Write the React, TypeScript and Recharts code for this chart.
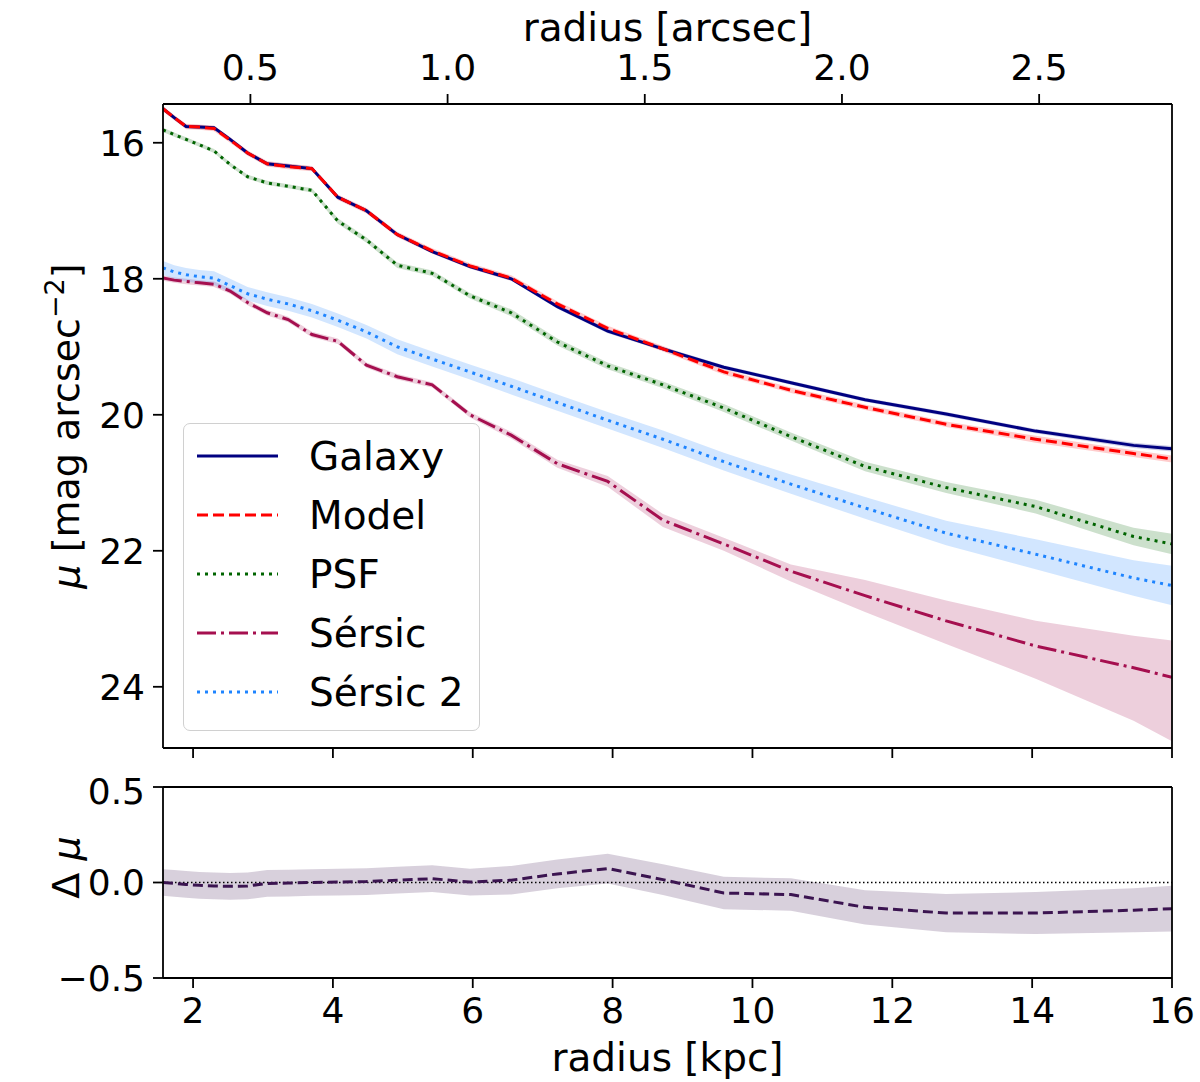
import React from "react";
import { ComposedChart, Line, Area, XAxis, YAxis, ReferenceLine, Legend } from "recharts";

// sample radii (kpc) shared by all profiles
const radiusKpc = [1.57, 1.73, 1.9, 2.09, 2.3, 2.53, 2.78, 3.06, 3.36, 3.7, 4.07, 4.48, 4.92, 5.42, 5.96, 6.55, 7.21, 7.93, 8.72, 9.59, 10.55, 11.61, 12.77, 14.05, 15.45, 16.0];

const galaxyMu = [15.5, 15.63, 15.76, 15.77, 15.78, 15.95, 16.15, 16.31, 16.34, 16.38, 16.8, 17.0, 17.35, 17.6, 17.82, 18.0, 18.41, 18.77, 19.03, 19.3, 19.53, 19.78, 19.99, 20.24, 20.45, 20.5];
const galaxyErr = [0.03, 0.03, 0.03, 0.03, 0.03, 0.03, 0.03, 0.03, 0.03, 0.03, 0.03, 0.03, 0.03, 0.03, 0.03, 0.03, 0.03, 0.03, 0.03, 0.03, 0.03, 0.03, 0.03, 0.03, 0.04, 0.04];

const modelMu = [15.5, 15.63, 15.76, 15.77, 15.79, 15.96, 16.15, 16.31, 16.35, 16.38, 16.8, 17.0, 17.35, 17.59, 17.81, 17.99, 18.37, 18.73, 19.03, 19.37, 19.64, 19.89, 20.14, 20.36, 20.57, 20.65];
const modelErr = [0.04, 0.04, 0.04, 0.04, 0.04, 0.04, 0.04, 0.04, 0.04, 0.04, 0.04, 0.04, 0.04, 0.04, 0.04, 0.04, 0.04, 0.04, 0.04, 0.04, 0.04, 0.04, 0.04, 0.05, 0.05, 0.05];

const psfMu = [15.81, 15.88, 15.95, 16.03, 16.12, 16.32, 16.5, 16.59, 16.64, 16.7, 17.15, 17.43, 17.8, 17.92, 18.25, 18.5, 18.93, 19.28, 19.56, 19.9, 20.32, 20.76, 21.07, 21.35, 21.79, 21.9];
const psfErr = [0.03, 0.03, 0.03, 0.03, 0.03, 0.03, 0.03, 0.03, 0.03, 0.03, 0.04, 0.04, 0.04, 0.04, 0.04, 0.05, 0.05, 0.05, 0.05, 0.06, 0.06, 0.07, 0.08, 0.1, 0.13, 0.15];

const sersicMu = [17.99, 18.02, 18.04, 18.06, 18.08, 18.18, 18.35, 18.5, 18.6, 18.82, 18.92, 19.27, 19.44, 19.56, 20.0, 20.3, 20.72, 20.98, 21.55, 21.9, 22.3, 22.66, 23.03, 23.4, 23.72, 23.86];
const sersicErrUp = [0.04, 0.04, 0.04, 0.04, 0.04, 0.04, 0.04, 0.04, 0.04, 0.04, 0.04, 0.04, 0.04, 0.04, 0.04, 0.05, 0.06, 0.08, 0.09, 0.09, 0.1, 0.23, 0.3, 0.37, 0.47, 0.54];
const sersicErrDown = [0.04, 0.04, 0.04, 0.04, 0.04, 0.04, 0.04, 0.04, 0.04, 0.04, 0.04, 0.04, 0.04, 0.04, 0.04, 0.05, 0.06, 0.08, 0.1, 0.1, 0.15, 0.24, 0.34, 0.48, 0.78, 0.94];

const sersic2Mu = [17.84, 17.9, 17.94, 17.97, 17.99, 18.1, 18.22, 18.3, 18.37, 18.47, 18.61, 18.78, 19.0, 19.18, 19.37, 19.58, 19.82, 20.08, 20.36, 20.69, 21.02, 21.37, 21.74, 22.05, 22.4, 22.51];
const sersic2Err = [0.1, 0.1, 0.1, 0.1, 0.1, 0.1, 0.1, 0.1, 0.1, 0.1, 0.1, 0.1, 0.11, 0.11, 0.11, 0.12, 0.12, 0.12, 0.13, 0.13, 0.14, 0.16, 0.18, 0.22, 0.26, 0.29];

// residual galaxy - model
const deltaMu = [0.0, -0.005, -0.01, -0.015, -0.018, -0.02, -0.018, -0.005, -0.003, 0.0, 0.002, 0.005, 0.012, 0.02, 0.002, 0.012, 0.045, 0.073, 0.015, -0.055, -0.063, -0.13, -0.16, -0.16, -0.145, -0.137];
const deltaErr = [0.07, 0.07, 0.07, 0.07, 0.07, 0.07, 0.07, 0.07, 0.07, 0.07, 0.07, 0.07, 0.07, 0.07, 0.07, 0.075, 0.075, 0.078, 0.08, 0.085, 0.085, 0.09, 0.1, 0.11, 0.115, 0.12];

const kpcTicks = [2, 4, 6, 8, 10, 12, 14, 16];
const arcsecTicks = [0.5, 1.0, 1.5, 2.0, 2.5];
const muTicks = [16, 18, 20, 22, 24];
const deltaTicks = [-0.5, 0, 0.5];
const KPC_PER_ARCSEC = 5.64;

const FONT = "DejaVu Sans";
const TITLE_SIZE = 39;
const tickStyle = { fontSize: 36, fill: "#000", fontFamily: FONT };
const frame = { stroke: "#000", strokeWidth: 1.8 };

const series = [
  { key: "galaxy", name: "Galaxy", color: "#000080", dash: undefined as string | undefined },
  { key: "model", name: "Model", color: "#ff0000", dash: "11 5" },
  { key: "psf", name: "PSF", color: "#006400", dash: "3 5" },
  { key: "sersic", name: "Sérsic", color: "#a50f4f", dash: "19 5 3 5" },
  { key: "sersic2", name: "Sérsic 2", color: "#1e84ff", dash: "3 5" },
];

const rows = radiusKpc.map((r, i) => ({
  r,
  galaxy: galaxyMu[i],
  galaxyBand: [galaxyMu[i] - galaxyErr[i], galaxyMu[i] + galaxyErr[i]],
  model: modelMu[i],
  modelBand: [modelMu[i] - modelErr[i], modelMu[i] + modelErr[i]],
  psf: psfMu[i],
  psfBand: [psfMu[i] - psfErr[i], psfMu[i] + psfErr[i]],
  sersic: sersicMu[i],
  sersicBand: [sersicMu[i] - sersicErrUp[i], sersicMu[i] + sersicErrDown[i]],
  sersic2: sersic2Mu[i],
  sersic2Band: [sersic2Mu[i] - sersic2Err[i], sersic2Mu[i] + sersic2Err[i]],
  delta: deltaMu[i],
  deltaBand: [deltaMu[i] - deltaErr[i], deltaMu[i] + deltaErr[i]],
}));

const MuLabel = (props: any) => {
  const vb = props.viewBox || { x: 0, y: 104, width: 163, height: 644 };
  const x = vb.x + 79;
  const cy = vb.y + vb.height / 2;
  return (
    <text x={x} y={cy} transform={`rotate(-90 ${x} ${cy})`} textAnchor="middle" fontFamily={FONT} fontSize={38} fill="#000">
      <tspan fontStyle="italic">μ</tspan>
      <tspan>{" [mag arcsec"}</tspan>
      <tspan dy={-15} fontSize={27}>−2</tspan>
      <tspan dy={15}>]</tspan>
    </text>
  );
};

const DeltaLabel = (props: any) => {
  const vb = props.viewBox || { x: 0, y: 17, width: 163, height: 191 };
  const x = vb.x + 79;
  const cy = vb.y + vb.height / 2 - 15;
  return (
    <text x={x} y={cy} transform={`rotate(-90 ${x} ${cy})`} textAnchor="middle" fontFamily={FONT} fontSize={38} fill="#000">
      <tspan>{"Δ "}</tspan>
      <tspan fontStyle="italic">μ</tspan>
    </text>
  );
};

const ArcsecLabel = (props: any) => {
  const vb = props.viewBox || { x: 163, y: 0, width: 1009, height: 104 };
  return (
    <text x={vb.x + vb.width / 2} y={vb.y + 41} textAnchor="middle" fontFamily={FONT} fontSize={TITLE_SIZE} fill="#000">
      radius [arcsec]
    </text>
  );
};

const KpcLabel = (props: any) => {
  const vb = props.viewBox || { x: 163, y: 208, width: 1009, height: 104 };
  return (
    <text x={vb.x + vb.width / 2} y={vb.y + 93} textAnchor="middle" fontFamily={FONT} fontSize={TITLE_SIZE} fill="#000">
      radius [kpc]
    </text>
  );
};

const LegendBox = () => (
  <div
    style={{
      width: 297,
      height: 308,
      boxSizing: "border-box",
      border: "1.5px solid #d0d0d0",
      borderRadius: 7,
      background: "rgba(255,255,255,0.8)",
    }}
  >
    <svg width={294} height={305} style={{ display: "block" }}>
      {series.map((s, i) => {
        const y = 32 + 59 * i;
        return (
          <g key={s.key}>
            <line x1={13} x2={94} y1={y} y2={y} stroke={s.color} strokeWidth={3} strokeDasharray={s.dash} />
            <text x={125} y={y + 14} fontFamily={FONT} fontSize={TITLE_SIZE} fill="#000">
              {s.name}
            </text>
          </g>
        );
      })}
    </svg>
  </div>
);

const App = () => {
  return (
    <div style={{ position: "absolute", left: 0, top: 0, width: 1200, height: 1082, background: "#fff" }}>
      <div style={{ position: "absolute", left: 0, top: 0 }}>
        <ComposedChart width={1200} height={770} data={rows} margin={{ top: 0, right: 28, bottom: 0, left: 0 }}>
          <XAxis
            xAxisId="kpc"
            dataKey="r"
            type="number"
            domain={[1.57, 16]}
            allowDataOverflow
            ticks={kpcTicks}
            tickFormatter={() => ""}
            height={22}
            tickSize={10}
            axisLine={frame}
            tickLine={frame}
            tick={tickStyle}
          />
          <XAxis
            xAxisId="arc"
            dataKey="r"
            type="number"
            orientation="top"
            domain={[1.57, 16]}
            allowDataOverflow
            ticks={arcsecTicks.map((a) => a * KPC_PER_ARCSEC)}
            tickFormatter={(v: number) => (v / KPC_PER_ARCSEC).toFixed(1)}
            height={104}
            tickSize={10}
            tickMargin={14}
            axisLine={frame}
            tickLine={frame}
            tick={tickStyle}
            label={<ArcsecLabel />}
          />
          <YAxis
            type="number"
            domain={[15.43, 24.9]}
            reversed
            allowDataOverflow
            ticks={muTicks}
            width={163}
            tickSize={10}
            tickMargin={8}
            axisLine={frame}
            tickLine={frame}
            tick={tickStyle}
            label={<MuLabel />}
          />
          {series.map((s) => (
            <Area
              key={s.key + "Band"}
              xAxisId="kpc"
              dataKey={s.key + "Band"}
              stroke="none"
              fill={s.color}
              fillOpacity={0.2}
              dot={false}
              activeDot={false}
              legendType="none"
              isAnimationActive={false}
            />
          ))}
          {series.map((s) => (
            <Line
              key={s.key}
              xAxisId="kpc"
              dataKey={s.key}
              name={s.name}
              stroke={s.color}
              strokeWidth={3}
              strokeDasharray={s.dash}
              dot={false}
              activeDot={false}
              isAnimationActive={false}
            />
          ))}
          <Line
            xAxisId="arc"
            dataKey="galaxy"
            stroke="none"
            dot={false}
            activeDot={false}
            legendType="none"
            isAnimationActive={false}
          />
          <ReferenceLine xAxisId="kpc" x={16} stroke="#000" strokeWidth={1.8} />
          <Legend
            layout="vertical"
            align="center"
            verticalAlign="middle"
            content={<LegendBox />}
            wrapperStyle={{ left: 183, top: 423, width: 297, height: 308 }}
          />
        </ComposedChart>
      </div>
      <div style={{ position: "absolute", left: 0, top: 770 }}>
        <ComposedChart width={1200} height={312} data={rows} margin={{ top: 17, right: 28, bottom: 0, left: 0 }}>
          <XAxis
            dataKey="r"
            type="number"
            domain={[1.57, 16]}
            allowDataOverflow
            ticks={kpcTicks}
            height={104}
            tickSize={10}
            tickMargin={9}
            axisLine={frame}
            tickLine={frame}
            tick={tickStyle}
            label={<KpcLabel />}
          />
          <YAxis
            type="number"
            domain={[-0.5, 0.5]}
            allowDataOverflow
            ticks={deltaTicks}
            tickFormatter={(v: number) => (v < 0 ? "−" + Math.abs(v).toFixed(1) : v.toFixed(1))}
            width={163}
            tickSize={10}
            tickMargin={8}
            axisLine={frame}
            tickLine={frame}
            tick={tickStyle}
            label={<DeltaLabel />}
          />
          <Area
            dataKey="deltaBand"
            stroke="none"
            fill="#3b1450"
            fillOpacity={0.2}
            dot={false}
            activeDot={false}
            isAnimationActive={false}
          />
          <ReferenceLine y={0} stroke="#000" strokeWidth={1.4} strokeDasharray="1.5 2.5" />
          <Line
            dataKey="delta"
            stroke="#3b1450"
            strokeWidth={3}
            strokeDasharray="10 5"
            dot={false}
            activeDot={false}
            isAnimationActive={false}
          />
          <ReferenceLine x={16} stroke="#000" strokeWidth={1.8} />
          <ReferenceLine y={0.5} stroke="#000" strokeWidth={1.8} />
        </ComposedChart>
      </div>
    </div>
  );
};

export default App;
